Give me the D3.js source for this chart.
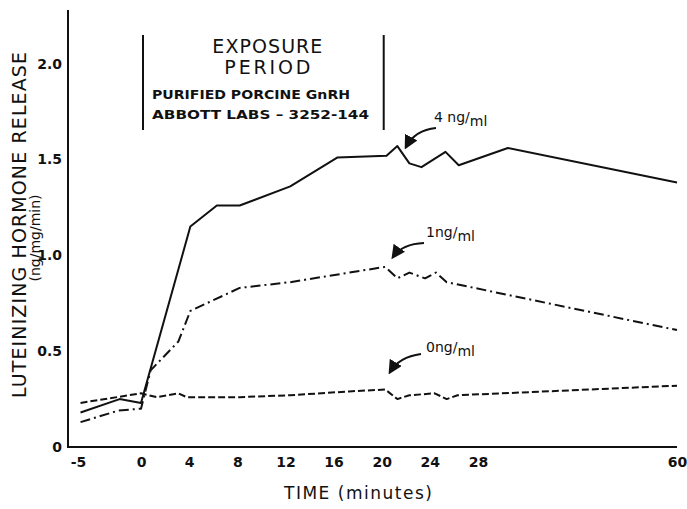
<!DOCTYPE html>
<html>
<head>
<meta charset="utf-8">
<script src="https://cdn.jsdelivr.net/npm/d3@7"></script>
<style>
  body { margin: 0; background: #fff; }
  svg { display: block; }
  text { font-family: 'DejaVu Sans', sans-serif; fill: #111; }
</style>
</head>
<body>
<svg id="chart" width="687" height="509"></svg>
<script>
// data
const xTicks = [-5, 0, 4, 8, 12, 16, 20, 24, 28, 60];
const yTicks = [0, 0.5, 1.0, 1.5, 2.0];
const yTickLabels = ['0', '0.5', '1.0', '1.5', '2.0'];

const time4 = [-4.8, -1.7, 0, 4.1, 6.3, 8.2, 12.4, 16.3, 20.4, 21.3, 22.3, 23.3, 25.3, 26.4, 32.8, 60];
const lh4 = [0.18, 0.25, 0.23, 1.15, 1.26, 1.26, 1.36, 1.51, 1.52, 1.57, 1.48, 1.46, 1.54, 1.47, 1.56, 1.38];

const time1 = [-4.8, -1.8, 0, 0.8, 3.1, 4.1, 8.2, 12.4, 17.3, 20.3, 21.3, 22.3, 23.6, 24.5, 25.4, 60];
const lh1 = [0.13, 0.19, 0.20, 0.40, 0.55, 0.71, 0.83, 0.86, 0.91, 0.94, 0.88, 0.91, 0.88, 0.91, 0.86, 0.61];

const time0 = [-4.8, 0, 1.3, 3.1, 3.8, 8.2, 12.4, 17.3, 20.3, 21.3, 22.3, 24.4, 25.4, 26.3, 60];
const lh0 = [0.23, 0.28, 0.26, 0.28, 0.26, 0.26, 0.27, 0.29, 0.30, 0.25, 0.27, 0.28, 0.25, 0.27, 0.32];

const exposure = [0, 20];

const svg = d3.select('#chart');

// the time axis is stretched between 0 and 28, squeezed after
const x = d3.scaleLinear().domain([-5, 0, 28, 60]).range([78, 141, 478, 677]);
const y = d3.scaleLinear().domain([0, 2.28]).range([447, 10]);
const axisX = 68;

// axes lines
svg.append('line')
  .attr('x1', axisX).attr('x2', axisX)
  .attr('y1', y(2.28)).attr('y2', y(0))
  .attr('stroke', '#111').attr('stroke-width', 2);
svg.append('line')
  .attr('x1', axisX - 1).attr('x2', x(60))
  .attr('y1', y(0)).attr('y2', y(0))
  .attr('stroke', '#111').attr('stroke-width', 2);

const gy = svg.append('g')
  .attr('transform', `translate(${axisX},0)`)
  .call(d3.axisLeft(y).tickValues(yTicks).tickSize(0).tickPadding(6)
    .tickFormat((d, i) => yTickLabels[i]));
gy.select('.domain').remove();
gy.selectAll('text')
  .style('font-family', "'DejaVu Sans', sans-serif")
  .style('font-size', '14px').style('font-weight', 'bold').attr('fill', '#111');

const gx = svg.append('g')
  .attr('transform', `translate(0,${y(0)})`)
  .call(d3.axisBottom(x).tickValues(xTicks).tickSize(0).tickPadding(10)
    .tickFormat(d => String(d)));
gx.select('.domain').remove();
gx.selectAll('text')
  .style('font-family', "'DejaVu Sans', sans-serif")
  .style('font-size', '14px').style('font-weight', 'bold').attr('fill', '#111');

// axis titles
svg.append('text')
  .attr('transform', 'translate(26,225) rotate(-90)')
  .attr('text-anchor', 'middle')
  .attr('font-size', 19)
  .attr('textLength', 346).attr('lengthAdjust', 'spacing')
  .text('LUTEINIZING HORMONE RELEASE');
svg.append('text')
  .attr('transform', 'translate(40,238) rotate(-90)')
  .attr('text-anchor', 'middle')
  .attr('font-size', 14)
  .text('(ng/mg/min)');
svg.append('text')
  .attr('x', 358).attr('y', 499)
  .attr('text-anchor', 'middle')
  .attr('font-size', 17)
  .attr('textLength', 148).attr('lengthAdjust', 'spacing')
  .text('TIME  (minutes)');

// exposure period bracket
exposure.forEach(t => {
  svg.append('line')
    .attr('x1', x(t) + 2).attr('x2', x(t) + 2)
    .attr('y1', 35).attr('y2', 130)
    .attr('stroke', '#111').attr('stroke-width', 2);
});
const midX = (x(exposure[0]) + x(exposure[1])) / 2;
svg.append('text').attr('x', midX + 6).attr('y', 53)
  .attr('text-anchor', 'middle').attr('font-size', 19)
  .attr('textLength', 110).attr('lengthAdjust', 'spacing')
  .text('EXPOSURE');
svg.append('text').attr('x', midX + 6).attr('y', 74)
  .attr('text-anchor', 'middle').attr('font-size', 19)
  .attr('textLength', 86).attr('lengthAdjust', 'spacing')
  .text('PERIOD');
svg.append('text').attr('x', 152).attr('y', 99)
  .attr('font-size', 12).attr('font-weight', 'bold')
  .attr('textLength', 198).attr('lengthAdjust', 'spacingAndGlyphs')
  .text('PURIFIED PORCINE GnRH');
svg.append('text').attr('x', 152).attr('y', 119)
  .attr('font-size', 12).attr('font-weight', 'bold')
  .attr('textLength', 217).attr('lengthAdjust', 'spacingAndGlyphs')
  .text('ABBOTT LABS \u2013 3252-144');

// series
const line = d3.line().x(d => x(d[0])).y(d => y(d[1]));
const series = [
  { t: time4, v: lh4, dash: null },
  { t: time1, v: lh1, dash: '10,4,2,4' },
  { t: time0, v: lh0, dash: '7,3' }
];
series.forEach(s => {
  svg.append('path')
    .datum(d3.zip(s.t, s.v))
    .attr('d', line)
    .attr('fill', 'none')
    .attr('stroke', '#111')
    .attr('stroke-width', 2)
    .attr('stroke-linejoin', 'round')
    .attr('stroke-dasharray', s.dash);
});

// annotations with curved arrows
svg.append('defs').append('marker')
  .attr('id', 'arrow').attr('viewBox', '0 0 10 10')
  .attr('refX', 8).attr('refY', 5)
  .attr('markerWidth', 7).attr('markerHeight', 7)
  .attr('orient', 'auto-start-reverse')
  .append('path').attr('d', 'M0,0 L10,5 L0,10 z').attr('fill', '#111');

const labels = [
  { name: '4 ng/', tx: 434, ty: 122, from: [436, 128], ctrl: [415, 130], to: [406, 147] },
  { name: '1ng/', tx: 426, ty: 237, from: [424, 243], ctrl: [402, 244], to: [393, 257] },
  { name: '0ng/', tx: 426, ty: 352, from: [421, 354], ctrl: [399, 357], to: [390, 372] }
];
labels.forEach(l => {
  const t = svg.append('text').attr('x', l.tx).attr('y', l.ty).attr('font-size', 14);
  t.append('tspan').text(l.name);
  t.append('tspan').attr('dy', 4).text('ml');
  svg.append('path')
    .attr('d', `M${l.from[0]},${l.from[1]} Q${l.ctrl[0]},${l.ctrl[1]} ${l.to[0]},${l.to[1]}`)
    .attr('fill', 'none').attr('stroke', '#111').attr('stroke-width', 2)
    .attr('marker-end', 'url(#arrow)');
});
</script>
</body>
</html>
